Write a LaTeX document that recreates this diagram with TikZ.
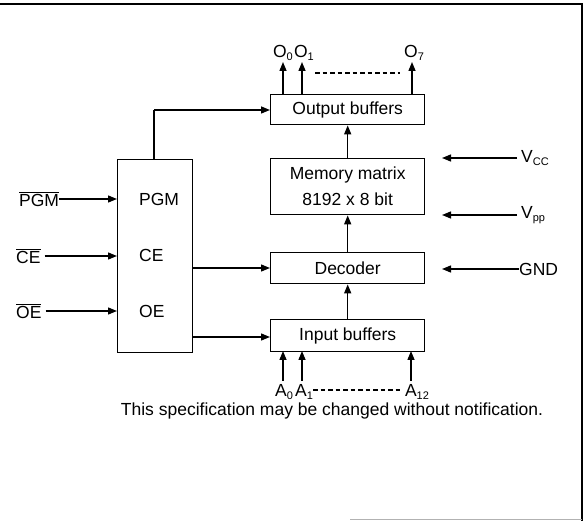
\documentclass[tikz,border=0pt]{standalone}
\usepackage{fontspec}
\setmainfont{Liberation Sans}
\usetikzlibrary{arrows.meta}
\newcommand\sbs[1]{\raisebox{-0.4ex}{\fontsize{11}{11}\selectfont #1}}
\begin{document}
\begin{tikzpicture}[x=1pt,y=-1pt,
  every node/.style={font=\fontsize{17.5}{19}\selectfont, inner sep=0pt},
  blk/.style={draw, line width=1.4pt, minimum width=154pt, anchor=north west},
  arr/.style={line width=1.4pt, -{Triangle[length=9pt,width=7pt]}},
  dsh/.style={line width=1.1pt, dash pattern=on 4.5pt off 3pt},
  lbl/.style={anchor=west}]
\useasboundingbox (0,0) rectangle (584,521);
% frame
\draw[line width=2pt] (0,4) -- (583,4);
\draw[line width=2pt] (582,4) -- (582,521);
\draw[line width=1pt, gray!60] (350,519) -- (582,519);
% blocks
\node[blk, minimum height=30pt] (ob) at (270,94) {Output buffers};
\node[blk, minimum height=56pt, align=center] (mm) at (270,158) {Memory matrix\\[7pt]8192 x 8 bit};
\node[blk, minimum height=31pt] (dec) at (270,252) {Decoder};
\node[blk, minimum height=32pt] (ib) at (270,319) {Input buffers};
\node[draw, line width=1.4pt, minimum width=75pt, minimum height=193pt, anchor=north west] (ctl) at (117,159) {};
\node[lbl] (pgm) at (139,199) {PGM};
\node[lbl] (ce) at (139,255) {CE};
\node[lbl] (oe) at (139,311) {OE};
% vertical arrows
\draw[arr] (mm.north) -- (ob.south);
\draw[arr] (dec.north) -- (mm.south);
\draw[arr] (ib.north) -- (dec.south);
% outputs
\coordinate (o0t) at (283,62);
\coordinate (o1t) at (302,62);
\coordinate (o7t) at (412,62);
\draw[arr] (283,94) -- (o0t);
\draw[arr] (302,94) -- (o1t);
\draw[arr] (412,94) -- (o7t);
\node (lo0) at (283,53) {O\sbs{0}};
\node (lo1) at (304,53) {O\sbs{1}};
\node (lo7) at (414,53) {O\sbs{7}};
\coordinate (od1) at (315,73);
\coordinate (od2) at (400,73);
\draw[dsh] (od1) -- (od2);
% inputs
\coordinate (a0b) at (283,381);
\coordinate (a1b) at (302,381);
\coordinate (a12b) at (411,381);
\draw[arr] (a0b) -- (283,351);
\draw[arr] (a1b) -- (302,351);
\draw[arr] (a12b) -- (411,351);
\node (la0) at (284,392) {A\sbs{0}};
\node (la1) at (304,392) {A\sbs{1}};
\node (la12) at (417,392) {A\sbs{12}};
\coordinate (ad1) at (313,390);
\coordinate (ad2) at (402,390);
\draw[dsh] (ad1) -- (ad2);
% control
\draw[line width=1.4pt] (154,159) -- (154,110) coordinate (c1);
\draw[arr] (c1) -- (ob.west |- c1);
\draw[arr] (192,268) -- (dec.west |- 0,268);
\draw[arr] (192,337) -- (ib.west |- 0,337);
% external control inputs
\node[anchor=west] (npgm) at (19,199) {$\overline{\mbox{PGM}}$};
\node[anchor=west] (nce) at (16,256) {$\overline{\mbox{CE}}$};
\node[anchor=west] (noe) at (16,311) {$\overline{\mbox{OE}}$};
\draw[arr] (npgm.east) -- (ctl.west |- npgm.east);
\draw[arr] ([xshift=4pt]nce.east) -- (ctl.west |- nce.east);
\draw[arr] ([xshift=4pt]noe.east) -- (ctl.west |- noe.east);
% supplies
\node[anchor=west] (vcc) at (521,158) {V\sbs{CC}};
\node[anchor=west] (vpp) at (521,215) {V\sbs{pp}};
\node[anchor=west] (gnd) at (519,269) {GND};
\coordinate (vcct) at (442,158);
\coordinate (vppt) at (442,215);
\coordinate (gndt) at (442,269);
\draw[arr] ([xshift=-4pt]vcc.west) -- (vcct);
\draw[arr] ([xshift=-4pt]vpp.west) -- (vppt);
\draw[arr] (gnd.west) -- (gndt);
% caption
\node (cap) at (332,411) {This specification may be changed without notification.};
\end{tikzpicture}
\end{document}
